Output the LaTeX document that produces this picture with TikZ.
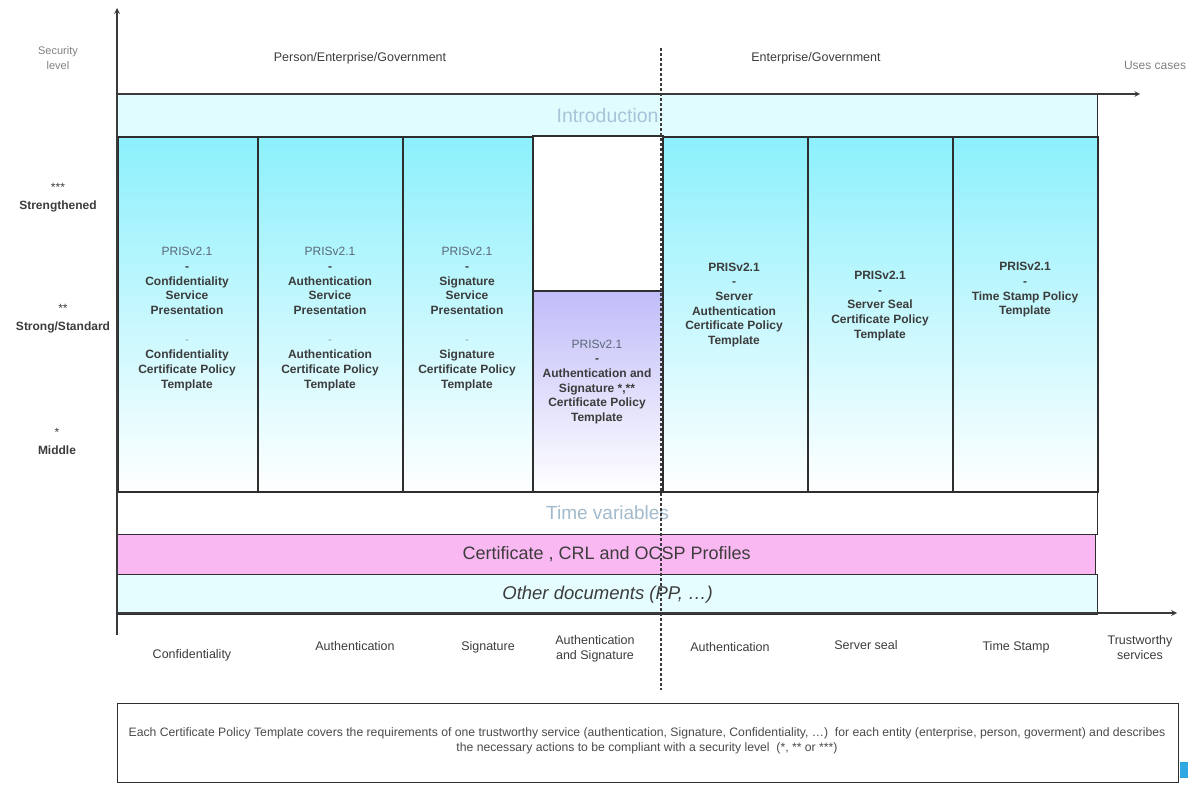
\documentclass[tikz,border=0pt]{standalone}
\usepackage{fontspec}
\setmainfont{Liberation Sans}
\usepackage{tikz}

\definecolor{axisgray}{HTML}{3A3A3A}
\definecolor{boxline}{HTML}{2E2E2E}
\definecolor{icecyan}{HTML}{E0FCFF}
\definecolor{skycyan}{HTML}{8CF0FC}
\definecolor{lilac}{HTML}{C0BCF8}
\definecolor{pinkband}{HTML}{FAB8F2}
\definecolor{labelgray}{HTML}{3C3C3C}
\definecolor{prisgray}{HTML}{5A6878}
\definecolor{fadedtext}{HTML}{A8C4D8}
\definecolor{notegray}{HTML}{4A4A4A}
\definecolor{cornerblue}{HTML}{2EA8E0}

% PRISv2.1 heading, set lighter in the first four columns
\newcommand{\prisname}{{\mdseries\color{prisgray}PRISv2.1}}
\newcommand{\faintdash}{{\color{fadedtext}-}}

\tikzset{
  band/.style={draw=boxline, line width=1.2pt, anchor=north west, inner sep=0pt,
               minimum width=980pt},
  colbox/.style={draw=boxline, line width=1.5pt, anchor=north west, inner sep=0pt,
                 minimum height=355pt, top color=skycyan, bottom color=white},
  coltext/.style={align=center, font=\fontsize{12}{14.7}\selectfont\bfseries, text=labelgray},
  axislabel/.style={align=center, font=\fontsize{12.5}{15}\selectfont, text=labelgray},
  levellabel/.style={align=center, font=\fontsize{12}{18}\selectfont\bfseries, text=labelgray},
}

\begin{document}
\begin{tikzpicture}[x=1pt, y=-1pt, >=stealth]
\useasboundingbox (0,0) rectangle (1188,784);

% horizontal bands
\node[band, minimum height=42pt, fill=icecyan, text=fadedtext,
      font=\fontsize{19.5}{20}\selectfont] (intro) at (117,94) {Introduction};
\node[band, minimum height=43pt, fill=white, text=fadedtext!85!gray,
      font=\fontsize{19}{20}\selectfont] (timevar) at (117,491) {Time variables};
\node[band, minimum width=978pt, minimum height=40pt, fill=pinkband, text=labelgray,
      font=\fontsize{18}{20}\selectfont] (profiles) at (117,534) {Certificate , CRL and OCSP Profiles};
\node[band, minimum height=40pt, fill=icecyan!80!white, text=labelgray,
      font=\fontsize{18.5}{20}\selectfont\itshape] (otherdocs) at (117,574) {Other documents (PP, \dots)};

% one column per trustworthy service
\foreach \name/\x/\w in {c1/117/140, c2/257/145, c3/402/130, c5/662/145, c6/807/145, c7/952/145}{
    \node[colbox, minimum width=\w pt] (\name) at (\x,136) {};
}
\node[colbox, minimum width=130pt, minimum height=155pt, top color=white, bottom color=white] (c4top) at (532,135) {};
\node[colbox, minimum width=130pt, minimum height=201pt, top color=lilac, bottom color=white] (c4) at (532,290) {};

\node[coltext] (t1) at (187,319) {\prisname\\-\\Confidentiality\\Service\\Presentation\\[14.7pt]\faintdash\\Confidentiality\\Certificate Policy\\Template};
\node[coltext] (t2) at (330,319) {\prisname\\-\\Authentication\\Service\\Presentation\\[14.7pt]\faintdash\\Authentication\\Certificate Policy\\Template};
\node[coltext] (t3) at (467,319) {\prisname\\-\\Signature\\Service\\Presentation\\[14.7pt]\faintdash\\Signature\\Certificate Policy\\Template};
\node[coltext] (t4) at (597,382) {\prisname\\-\\Authentication and\\Signature *,**\\Certificate Policy\\Template};
\node[coltext] (t5) at (734,305) {PRISv2.1\\-\\Server\\Authentication\\Certificate Policy\\Template};
\node[coltext] (t6) at (880,306) {PRISv2.1\\-\\Server Seal\\Certificate Policy\\Template};
\node[coltext] (t7) at (1025,290) {PRISv2.1\\-\\Time Stamp Policy\\Template};

% axes
\draw[->, axisgray, line width=1.6pt] (117,635) -- (117,8);
\draw[->, axisgray, line width=1.6pt] (117,613) -- (1177,613);
\draw[->, axisgray, line width=1.4pt] (117,94) -- (1140,94);
\draw[axisgray, line width=1.2pt, densely dashed] (661,48) -- (661,690);

% security levels
\node[axislabel, font=\fontsize{11}{15}\selectfont, text=gray] (lvl) at (58,58) {Security\\level};
\node[levellabel] (strengthened) at (58,198) {{\mdseries ***}\\Strengthened};
\node[levellabel] (standard) at (63,319) {{\mdseries **}\\Strong/Standard};
\node[levellabel] (middle) at (57,441) {{\mdseries *}\\Middle};

% users
\node[axislabel] (pe) at (360,58) {Person/Enterprise/Government};
\node[axislabel] (eg) at (816,58) {Enterprise/Government};
\node[axislabel, font=\fontsize{12}{15}\selectfont, text=gray] (uses) at (1155,65) {Uses cases};

% services
\node[axislabel] (s1) at (192,655) {Confidentiality};
\node[axislabel] (s2) at (355,646) {Authentication};
\node[axislabel] (s3) at (488,647) {Signature};
\node[axislabel] (s4) at (595,649) {Authentication\\and Signature};
\node[axislabel] (s5) at (730,647) {Authentication};
\node[axislabel] (s6) at (866,645) {Server seal};
\node[axislabel] (s7) at (1016,647) {Time Stamp};
\node[axislabel] (s8) at (1140,648) {Trustworthy\\services};

% note
\node[draw=boxline, line width=1.4pt, anchor=north west, inner sep=0pt,
      minimum width=1061pt, minimum height=79pt] (note) at (117,703) {};
\node[align=center, font=\fontsize{12.2}{15}\selectfont, text=notegray] (notetext) at (647,741)
  {Each Certificate Policy Template covers the requirements of one trustworthy service (authentication, Signature, Confidentiality, \dots)\ \ for each entity (enterprise, person, goverment) and describes\\
   the necessary actions to be compliant with a security level\ \ (*, ** or ***)};
\fill[cornerblue] (1180,762) rectangle (1188,778);
\end{tikzpicture}
\end{document}
